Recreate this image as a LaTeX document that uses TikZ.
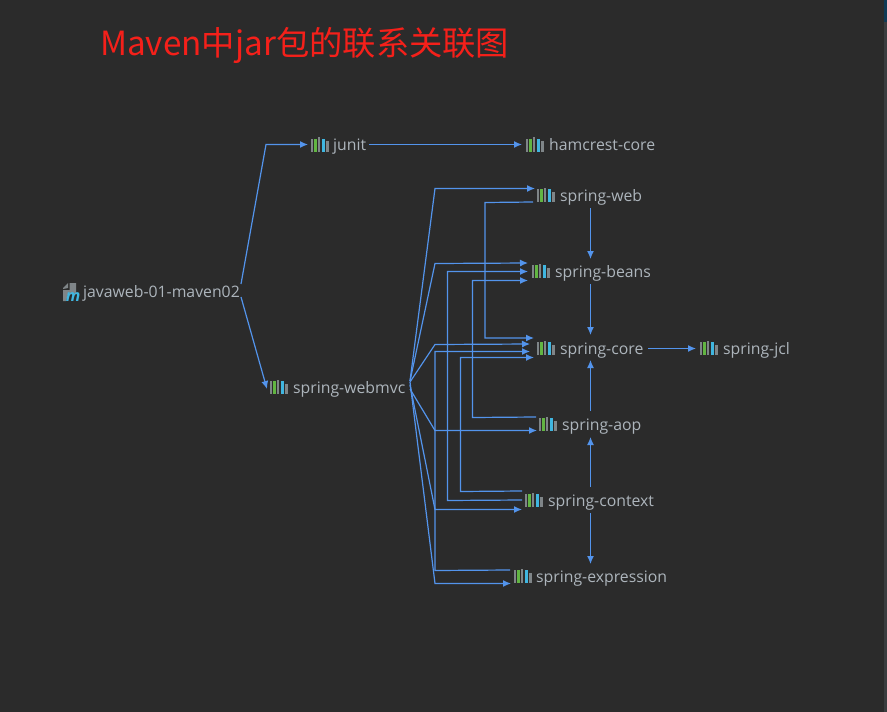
\documentclass[tikz,border=0pt]{standalone}
\usepackage{fontspec}
\setmainfont{Open Sans}
\newfontfamily\cjkfont{Noto Sans CJK SC}
\usetikzlibrary{arrows.meta,calc}
\definecolor{bgc}{HTML}{2B2B2B}
\definecolor{linkc}{HTML}{5394EC}
\definecolor{txtc}{HTML}{ADB5BC}
\definecolor{barg}{HTML}{7F8588}
\definecolor{barv}{HTML}{62B543}
\definecolor{barb}{HTML}{40B6E0}
\definecolor{titlec}{HTML}{F5201A}
\definecolor{scrollt}{HTML}{0F3A55}
\definecolor{scrollb}{HTML}{3A3D3F}
\tikzset{
  x=1pt,y=-1pt,
  label node/.style={anchor=west,inner sep=0pt,text=txtc,font=\fontsize{15.8}{17}\selectfont,text height=15pt,text depth=3pt},
  link/.style={draw=linkc,line width=1.2pt,line join=miter,-{Latex[length=8pt,width=7pt]}},
  pics/jaricon/.style={code={
    \fill[barg] (0,-5.7) rectangle (2.4,7.3);
    \fill[barv] (3.4,-5.7) rectangle (6.1,7.3);
    \fill[barg] (6.8,-7.5) rectangle (9.3,7.3);
    \fill[barb] (11,-5.7) rectangle (13.7,7.3);
    \fill[barg] (15,-3.3) rectangle (17.5,7.3);
  }}
}
\begin{document}
\begin{tikzpicture}
\useasboundingbox (0,0) rectangle (887,712);
\fill[bgc] (0,0) rectangle (887,712);
\fill[scrollb] (884,22) rectangle (887,712);
\fill[scrollt] (884,0) rectangle (887,22);

\node[anchor=west,inner sep=0pt,text=titlec,font=\cjkfont\fontsize{33.3}{40}\selectfont] (title) at (100,45) {Maven中jar包的联系关联图};

% root
\node[label node] (root) at (83,291) {javaweb-01-maven02};
\fill[barg] (63,289) -- (63,288) -- (68,283) -- (68,288) -- cycle;
\fill[barg] (69.5,283) -- (76,283) -- (76,294) -- (68,294) -- (66,301) -- (63,301) -- (63,290) -- (69.5,290) -- cycle;
\node[anchor=center,inner sep=0pt,text=barb,font=\fontsize{16}{17}\selectfont\bfseries\itshape] (rootm) at (73,297) {m};

\node[label node] (junit) at (333,144) {junit};
\pic at (311,144.5) {jaricon};
\node[label node] (hamcrest) at (549,144) {hamcrest-core};
\pic at (526,144.5) {jaricon};
\node[label node] (web) at (560,195) {spring-web};
\pic at (537,195) {jaricon};
\node[label node] (beans) at (555,271) {spring-beans};
\pic at (532,271) {jaricon};
\node[label node] (core) at (560,348) {spring-core};
\pic at (537,348) {jaricon};
\node[label node] (jcl) at (723,348) {spring-jcl};
\pic at (700,348) {jaricon};
\node[label node] (aop) at (562,424) {spring-aop};
\pic at (539,424) {jaricon};
\node[label node] (context) at (548,500) {spring-context};
\pic at (525,500) {jaricon};
\node[label node] (expr) at (536,576) {spring-expression};
\pic at (514,576) {jaricon};
\node[label node] (webmvc) at (293,387) {spring-webmvc};
\pic at (270,387) {jaricon};

% root edges
\draw[link] ($(root.west)+(158,-7)$) -- (266,144.5) -- ($(junit.west)+(-25,0.5)$);
\draw[link] ($(root.west)+(158,6)$) -- ($(webmvc.west)+(-26,2)$);
\draw[link] ($(junit.west)+(36,0.5)$) -- ($(hamcrest.west)+(-27,0.5)$);

% webmvc edges
\draw[link] ($(webmvc.west)+(117,-6)$) -- (435,188.5) -- ($(web.west)+(-25,-6.5)$);
\draw[link] ($(webmvc.west)+(117,-6)$) -- (435,263.5) -- ($(beans.west)+(-27,-8)$);
\draw[link] ($(webmvc.west)+(117,-5)$) -- (435,344.5) -- ($(core.west)+(-30,-4)$);
\draw[link] ($(webmvc.west)+(117,2)$) -- (435,430.5) -- ($(aop.west)+(-25,6.5)$);
\draw[link] ($(webmvc.west)+(117,-2)$) -- (435,509.5) -- ($(context.west)+(-26,9.5)$);
\draw[link] ($(webmvc.west)+(117,-5)$) -- (435,583.5) -- ($(expr.west)+(-25,7.5)$);
\draw[link] ($(expr.west)+(-26,-6)$) -- (435,570.5) -- (435,351.5) -- ($(core.west)+(-30,3.5)$);

% routed edges
\draw[link] ($(web.west)+(-27,7)$) -- (485,202.5) -- (485,338) -- ($(core.west)+(-26,-10)$);
\draw[link] ($(context.west)+(-26,0)$) -- (447.5,500.5) -- (447.5,271.5) -- ($(beans.west)+(-27,0.5)$);
\draw[link] ($(context.west)+(-26,-9)$) -- (460.5,491.5) -- (460.5,357.5) -- ($(core.west)+(-26,9.5)$);
\draw[link] ($(aop.west)+(-26,-7)$) -- (472.5,417.5) -- (472.5,280.5) -- ($(beans.west)+(-27,9.5)$);

% vertical edges
\draw[link] ($(web.west)+(30.5,13)$) -- ($(beans.west)+(35.5,-12)$);
\draw[link] ($(beans.west)+(35.5,13)$) -- ($(core.west)+(30.5,-13)$);
\draw[link] ($(aop.west)+(28.5,-13)$) -- ($(core.west)+(30.5,12)$);
\draw[link] ($(context.west)+(42.5,-13)$) -- ($(aop.west)+(28.5,13)$);
\draw[link] ($(context.west)+(42.5,13)$) -- ($(expr.west)+(54.5,-12)$);
\draw[link] ($(core.west)+(88,0.5)$) -- ($(jcl.west)+(-27,0.5)$);
\end{tikzpicture}
\end{document}
